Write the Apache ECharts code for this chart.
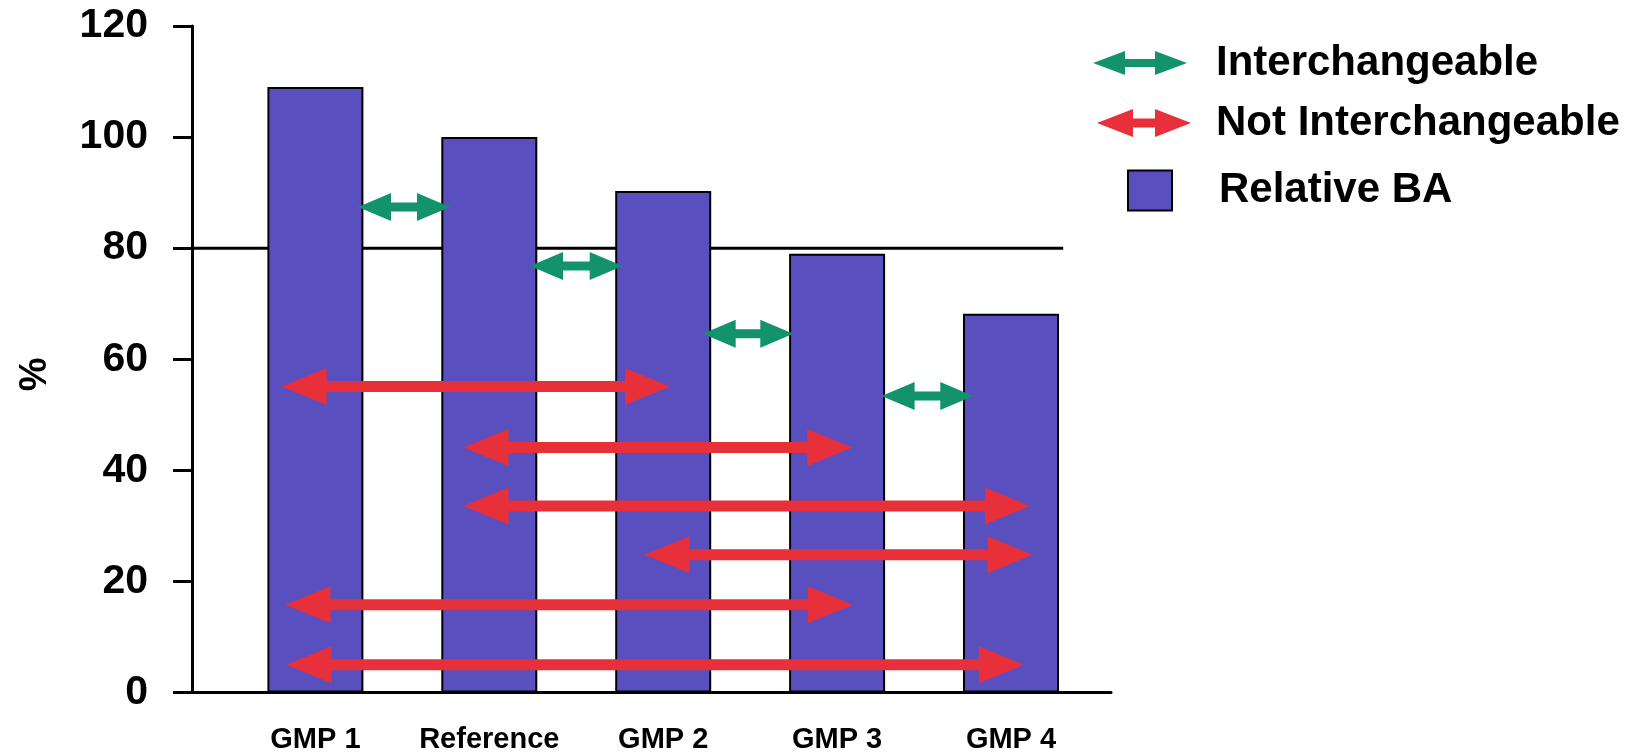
<!DOCTYPE html>
<html>
<head>
<meta charset="utf-8">
<script src="https://cdn.jsdelivr.net/npm/echarts@6/dist/echarts.min.js"></script>
<style>
html,body{margin:0;padding:0;background:#fff;}
#chart{width:1647px;height:755px;}
</style>
</head>
<body>
<div id="chart"></div>
<script>
// ---- data ----
const categories = ['GMP 1', 'Reference', 'GMP 2', 'GMP 3', 'GMP 4'];
const categoryPos = [0, 1, 2, 3, 4];
const relativeBA = [109, 100, 90.3, 79, 68.2];
const yMin = 0, yMax = 120, yStep = 20;
const thresholdValue = 80;
const thresholdEnd = 4.30;          // line runs from axis to right edge of GMP 4 bar
// arrows: [fromX, toX, y]  (x in category units, y in %)
const interchangeable = [
  [0.245, 0.774, 87.4],
  [1.234, 1.767, 76.8],
  [2.227, 2.748, 64.6],
  [3.256, 3.783, 53.4]
];
const notInterchangeable = [
  [-0.194, 2.039, 55.1],
  [0.852, 3.087, 44.1],
  [0.852, 4.109, 33.6],
  [1.893, 4.125, 24.8],
  [-0.172, 3.091, 15.8],
  [-0.166, 4.074, 5.0]
];
const xMin = -0.7096, xMax = 4.575;

// ---- styles ----
const BAR = '#5a4fbf', GREEN = '#12936c', RED = '#e8303a';
const FONT = 'Liberation Sans';

function arrowRenderer(color, headLen, headH, shaft) {
  return function (params, api) {
    const y = api.value(2);
    const p1 = api.coord([api.value(0), y]);
    const p2 = api.coord([api.value(1), y]);
    const a = p1[0], b = p2[0], cy = p1[1];
    const pts = [
      [a, cy], [a + headLen, cy - headH / 2], [a + headLen, cy - shaft / 2],
      [b - headLen, cy - shaft / 2], [b - headLen, cy - headH / 2], [b, cy],
      [b - headLen, cy + headH / 2], [b - headLen, cy + shaft / 2],
      [a + headLen, cy + shaft / 2], [a + headLen, cy + headH / 2]
    ];
    return { type: 'polygon', shape: { points: pts }, style: { fill: color } };
  };
}

const chart = echarts.init(document.getElementById('chart'), null, { renderer: 'canvas' });
const legendText = (pad) => ({ fontSize: 42, fontWeight: 'bold', color: '#000', fontFamily: FONT, lineHeight: 44, padding: [0, 0, 0, pad] });

chart.setOption({
  animation: false,
  textStyle: { fontFamily: FONT },
  grid: { left: 192, right: 1647 - 1111, top: 26, bottom: 755 - 692.5, containLabel: false, outerBoundsMode: 'none' },
  legend: [
    { data: ['Interchangeable'], orient: 'vertical', left: 1093, top: 41, padding: 0, selectedMode: false,
      itemWidth: 94, itemHeight: 24,
      icon: 'path://M0,12 L32,0 L32,8 L62,8 L62,0 L94,12 L62,24 L62,16 L32,16 L32,24 Z',
      itemStyle: { color: GREEN }, textStyle: legendText(24) },
    { data: ['Not Interchangeable'], orient: 'vertical', left: 1097, top: 101, padding: 0, selectedMode: false,
      itemWidth: 94, itemHeight: 28,
      icon: 'path://M0,14 L36,0 L36,9.5 L58,9.5 L58,0 L94,14 L58,28 L58,18.5 L36,18.5 L36,28 Z',
      itemStyle: { color: RED }, textStyle: legendText(20) },
    { data: ['Relative BA'], orient: 'vertical', left: 1127, top: 168.5, padding: 0, selectedMode: false,
      itemWidth: 44, itemHeight: 40, icon: 'rect',
      itemStyle: { color: BAR, borderColor: '#000', borderWidth: 2 }, textStyle: legendText(42) }
  ],
  xAxis: {
    type: 'value', min: xMin, max: xMax,
    splitLine: { show: false },
    axisLine: { show: true, onZero: false, lineStyle: { color: '#000', width: 3 } },
    axisTick: { show: false },
    axisLabel: {
      customValues: categoryPos,
      formatter: (v) => categories[Math.round(v)] || '',
      fontSize: 29, fontWeight: 'bold', color: '#000', margin: 33
    }
  },
  yAxis: {
    type: 'value', min: yMin, max: yMax, interval: yStep,
    name: '%', nameLocation: 'middle', nameRotate: 90, nameGap: 137,
    nameTextStyle: { fontSize: 38, fontWeight: 'bold', color: '#000', padding: [0, 30, 0, 0] },
    splitLine: { show: false },
    axisLine: { show: true, onZero: false, lineStyle: { color: '#000', width: 3 } },
    axisTick: { show: true, length: 19, lineStyle: { color: '#000', width: 3 } },
    axisLabel: { fontSize: 41, fontWeight: 'bold', color: '#000', margin: 44 }
  },
  series: [
    {
      name: 'threshold', type: 'line', z: 1, symbol: 'none', silent: true,
      lineStyle: { color: '#000', width: 3 },
      data: [[xMin, thresholdValue], [thresholdEnd, thresholdValue]]
    },
    {
      name: 'Relative BA', type: 'bar', z: 2, barWidth: 96,
      itemStyle: { color: BAR, borderColor: '#000', borderWidth: 2 },
      data: categoryPos.map((x, i) => [x, relativeBA[i]])
    },
    {
      name: 'Interchangeable', type: 'custom', z: 3,
      itemStyle: { color: GREEN },
      encode: { x: [0, 1], y: 2 },
      renderItem: arrowRenderer(GREEN, 33, 28, 9),
      data: interchangeable
    },
    {
      name: 'Not Interchangeable', type: 'custom', z: 3,
      itemStyle: { color: RED },
      encode: { x: [0, 1], y: 2 },
      renderItem: arrowRenderer(RED, 45, 37, 11),
      data: notInterchangeable
    }
  ]
});
</script>
</body>
</html>
